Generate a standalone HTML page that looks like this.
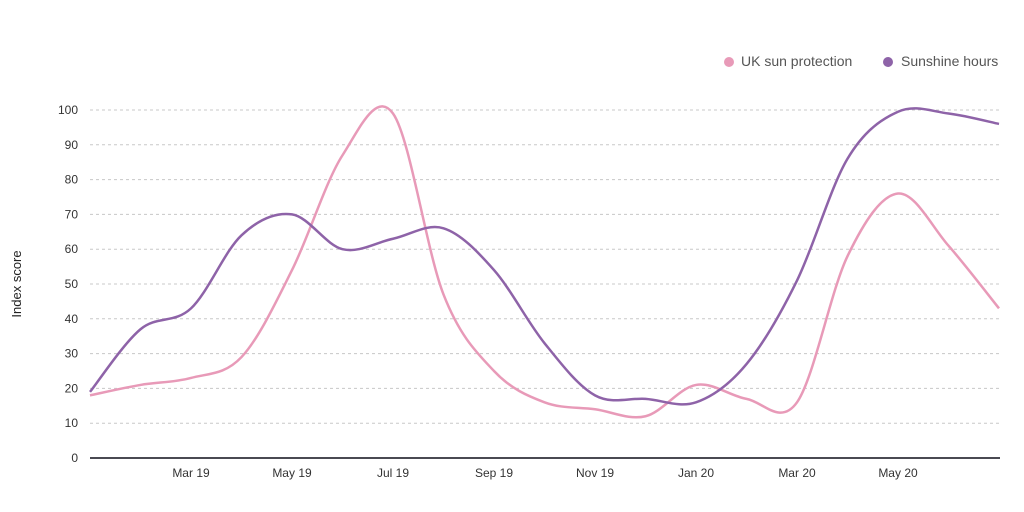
<!DOCTYPE html>
<html><head><meta charset="utf-8"><style>
html,body{margin:0;padding:0;background:#fff;}
svg{display:block;font-family:"Liberation Sans",sans-serif;}
</style></head><body>
<svg id="s" width="1024" height="512" viewBox="0 0 1024 512" xmlns="http://www.w3.org/2000/svg">
<g id="grid"></g>
<line x1="90" y1="458" x2="1000" y2="458" stroke="#4a4a52" stroke-width="2"/>
<g font-size="12" fill="#333" id="ylab" text-anchor="end"></g>
<g font-size="12" fill="#333" text-anchor="middle">
<text x="191" y="477">Mar 19</text><text x="292" y="477">May 19</text><text x="393" y="477">Jul 19</text>
<text x="494" y="477">Sep 19</text><text x="595" y="477">Nov 19</text><text x="696" y="477">Jan 20</text>
<text x="797" y="477">Mar 20</text><text x="898" y="477">May 20</text>
</g>
<text x="21" y="284" font-size="13" fill="#222" text-anchor="middle" transform="rotate(-90 21 284)">Index score</text>
<circle cx="729" cy="62" r="5" fill="#e89ab8"/>
<text x="741" y="66" font-size="14" fill="#555">UK sun protection</text>
<circle cx="888" cy="62" r="5" fill="#8e63a8"/>
<text x="901" y="66" font-size="14" fill="#555">Sunshine hours</text>
<path id="p1" fill="none" stroke="#e89ab8" stroke-width="2.5"/>
<path id="p2" fill="none" stroke="#8e63a8" stroke-width="2.5"/>
</svg>
<script>
var g=document.getElementById('grid'),yl=document.getElementById('ylab'),ns="http://www.w3.org/2000/svg";
for(var v=0;v<=100;v+=10){var y=458-v*3.48;
 if(v>0){var l=document.createElementNS(ns,'line');l.setAttribute('x1',90);l.setAttribute('x2',1000);l.setAttribute('y1',y);l.setAttribute('y2',y);l.setAttribute('stroke','#c8c8c8');l.setAttribute('stroke-dasharray','3,3');g.appendChild(l);}
 var t=document.createElementNS(ns,'text');t.setAttribute('x',78);t.setAttribute('y',y+4);t.textContent=v;yl.appendChild(t);}
function path(d){var p=d.map(function(v,i){return [90+i*50.5,458-v*3.48];});
 var s='M'+p[0][0]+','+p[0][1];
 for(var i=0;i<p.length-1;i++){var a=p[i-1]||p[i],b=p[i],c=p[i+1],e=p[i+2]||c;
  s+=' C'+(b[0]+(c[0]-a[0])/6)+','+(b[1]+(c[1]-a[1])/6)+' '+(c[0]-(e[0]-b[0])/6)+','+(c[1]-(e[1]-b[1])/6)+' '+c[0]+','+c[1];}
 return s;}
document.getElementById('p1').setAttribute('d',path([18,21,23,29,54,87,99,47,25,16,14,12,21,17,16,58,76,61,43]));
document.getElementById('p2').setAttribute('d',path([19,37,43,64,70,60,63,66,54,33,18,17,16,27,51,86,99.5,99,96]));
</script>
</body></html>
